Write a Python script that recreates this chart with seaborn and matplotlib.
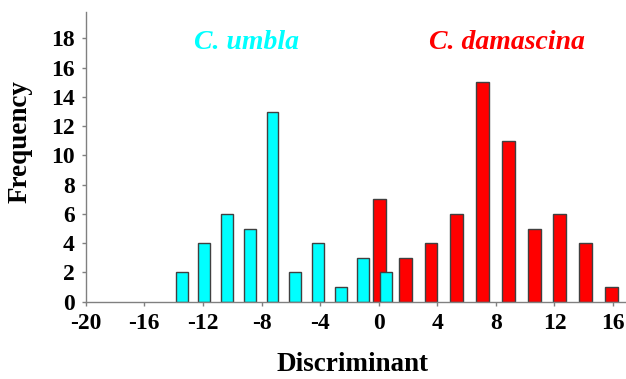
import matplotlib
matplotlib.use("Agg")
import matplotlib.pyplot as plt
import seaborn as sns
import pandas as pd

# Data
umbla_x = [-13.45, -11.9, -10.35, -8.8, -7.25, -5.7, -4.15, -2.6, -1.05, 0.5]
umbla_freq = [2, 4, 6, 5, 13, 2, 4, 1, 3, 2]
damascina_x = [0.05, 1.81, 3.57, 5.33, 7.09, 8.85, 10.61, 12.37, 14.13, 15.89]
damascina_freq = [7, 3, 4, 6, 15, 11, 5, 6, 4, 1]
x_ticks = [-20, -16, -12, -8, -4, 0, 4, 8, 12, 16]
y_ticks = [0, 2, 4, 6, 8, 10, 12, 14, 16, 18]

sns.set_style("white")
plt.rcParams["font.family"] = ["Liberation Serif", "DejaVu Serif"]
plt.rcParams["text.color"] = "black"
plt.rcParams["axes.labelcolor"] = "black"
plt.rcParams["xtick.color"] = "black"
plt.rcParams["ytick.color"] = "black"

fig = plt.figure(figsize=(6.26, 3.79), dpi=100)
ax = fig.add_axes([0.137, 0.204, 0.861, 0.764])

df_d = pd.DataFrame({"x": damascina_x, "f": damascina_freq})
df_u = pd.DataFrame({"x": umbla_x, "f": umbla_freq})

sns.barplot(data=df_d, x="x", y="f", native_scale=True, width=0.5,
            color="#ff0000", saturation=1, edgecolor="#404040", linewidth=1,
            ax=ax, errorbar=None)
sns.barplot(data=df_u, x="x", y="f", native_scale=True, width=0.52,
            color="#00ffff", saturation=1, edgecolor="#404040", linewidth=1,
            ax=ax, errorbar=None)

ax.set_xlim(-20, 16.8)
ax.set_ylim(0, 19.8)
ax.set_xticks(x_ticks)
ax.set_xticklabels([str(t) for t in x_ticks])
ax.set_yticks(y_ticks)
ax.set_yticklabels([str(t) for t in y_ticks])

for lab in ax.get_xticklabels() + ax.get_yticklabels():
    lab.set_fontweight("bold")
    lab.set_fontsize(17)
    lab.set_color("black")

ax.tick_params(axis="both", which="major", direction="out", length=3,
               width=1, color="#808080", pad=5, bottom=True, left=True)

for s in ["top", "right"]:
    ax.spines[s].set_visible(False)
for s in ["left", "bottom"]:
    ax.spines[s].set_color("#808080")
    ax.spines[s].set_linewidth(1)

ax.set_xlabel("Discriminant", fontsize=19.5, fontweight="bold", color="black")
ax.set_ylabel("Frequency", fontsize=19.5, fontweight="bold", color="black")
ax.xaxis.set_label_coords(0.494, -0.217)
ax.yaxis.set_label_coords(-0.122, 0.552)
ax.xaxis.label.set_va("center")
ax.yaxis.label.set_va("center")

ax.text(-9.0, 17.7, "C. umbla", color="#00ffff", fontsize=20,
        fontweight="bold", fontstyle="italic", ha="center", va="center")
ax.text(8.78, 17.7, "C. damascina", color="#ff0000", fontsize=20,
        fontweight="bold", fontstyle="italic", ha="center", va="center")

fig.savefig("out.png", dpi=100)
